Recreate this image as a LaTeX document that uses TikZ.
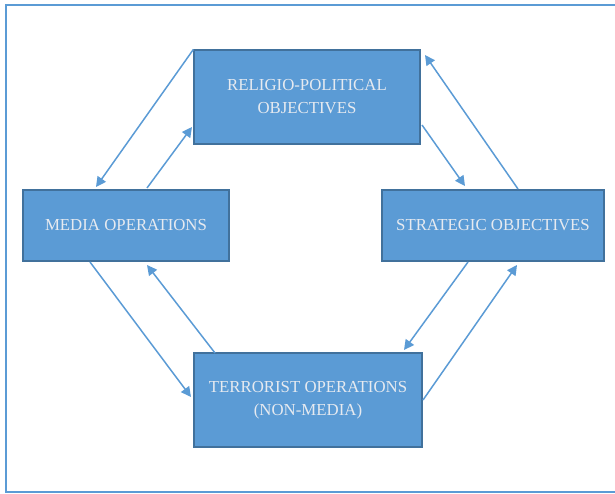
\documentclass[tikz,border=0pt]{standalone}
\usepackage{fontspec}
\setmainfont{Liberation Serif}
\usetikzlibrary{arrows.meta}
\definecolor{boxblue}{HTML}{5B9BD5}
\definecolor{boxedge}{HTML}{41719C}
\definecolor{txt}{HTML}{E6EAF0}
\tikzset{
  stagebox/.style={draw=boxedge, line width=1.2pt, fill=boxblue, text=txt,
    align=center, font=\fontsize{16.8}{23}\selectfont, inner sep=0pt},
  flow/.style={draw=boxblue, line width=1.5pt, -{Triangle[length=10pt,width=10pt]}}
}
\begin{document}
\begin{tikzpicture}[x=1pt,y=-1pt]
\useasboundingbox (0,0) rectangle (615,494);
\draw[boxblue, line width=2pt] (621,5) -- (6,5) -- (6,492) -- (621,492);
\node[stagebox, minimum width=226pt, minimum height=94pt] (top) at (307,97) {RELIGIO-POLITICAL\\OBJECTIVES};
\node[stagebox, minimum width=206pt, minimum height=71pt] (left) at (126,225.5) {MEDIA OPERATIONS};
\node[stagebox, minimum width=222pt, minimum height=71pt] (right) at (493,225.5) {STRATEGIC OBJECTIVES};
\node[stagebox, minimum width=228pt, minimum height=94pt] (bot) at (308,400) {TERRORIST OPERATIONS\\(NON-MEDIA)};
\coordinate (a1) at (96,187);
\coordinate (a2s) at (147,188);
\coordinate (a2e) at (192,127);
\coordinate (a3s) at (422,125);
\coordinate (a3e) at (465,186);
\coordinate (a4s) at (518,189);
\coordinate (a4e) at (425,55);
\coordinate (a5s) at (468,262);
\coordinate (a5e) at (404,350);
\coordinate (a6s) at (423,400);
\coordinate (a6e) at (517,265);
\coordinate (a7s) at (215,353);
\coordinate (a7e) at (147,265);
\coordinate (a8s) at (90,262);
\coordinate (a8e) at (191,397);
\draw[flow] (top.north west) -- (a1);
\draw[flow] (a2s) -- (a2e);
\draw[flow] (a3s) -- (a3e);
\draw[flow] (a4s) -- (a4e);
\draw[flow] (a5s) -- (a5e);
\draw[flow] (a6s) -- (a6e);
\draw[flow] (a7s) -- (a7e);
\draw[flow] (a8s) -- (a8e);
\end{tikzpicture}
\end{document}
